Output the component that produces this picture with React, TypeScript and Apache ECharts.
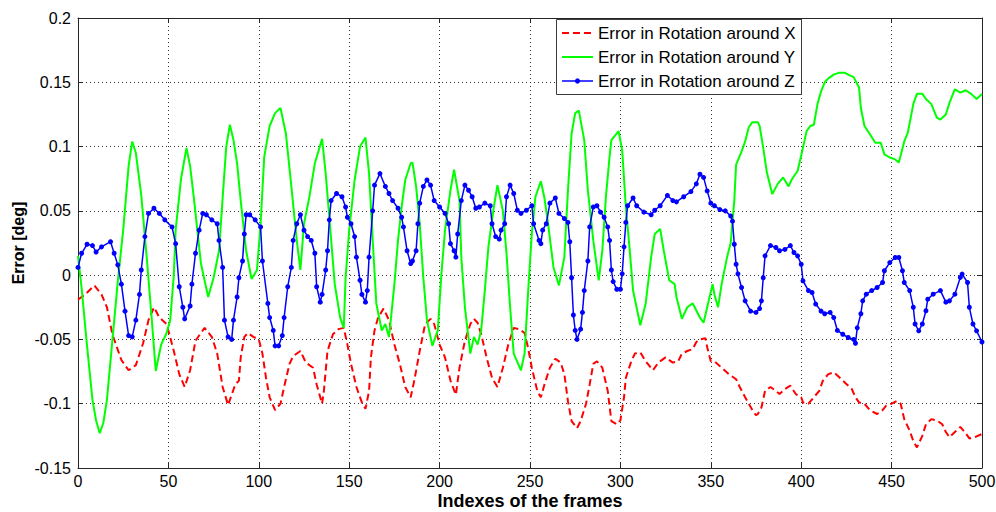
import React, { useEffect, useRef } from "react";
import * as echarts from "echarts";

const seriesNames = [
  "Error in Rotation around X",
  "Error in Rotation around Y",
  "Error in Rotation around Z",
];
const seriesColors = ["#ff0000", "#00ff00", "#0000ff"];

const xTicks = { min: 0, max: 500, interval: 50 };
const yTicks = { min: -0.15, max: 0.2, interval: 0.05 };

// [frame index, error in deg]
const rotX: [number, number][] = [
  [0,-0.019],[4,-0.015],[9,-0.008],[13,-0.015],[16,-0.025],[19,-0.046],[24,-0.066],[28,-0.074],[32,-0.070],[36,-0.053],[39,-0.035],[42,-0.025],[45,-0.033],[49,-0.038],[53,-0.059],[56,-0.077],[59,-0.087],[62,-0.074],[65,-0.051],[70,-0.041],[74,-0.048],[77,-0.061],[80,-0.087],[83,-0.101],[87,-0.085],[89,-0.082],[90,-0.064],[92,-0.048],[94,-0.045],[97,-0.048],[100,-0.050],[102,-0.061],[104,-0.080],[106,-0.095],[109,-0.105],[112,-0.100],[114,-0.087],[117,-0.069],[119,-0.063],[123,-0.059],[126,-0.068],[130,-0.072],[132,-0.085],[135,-0.100],[136,-0.090],[138,-0.059],[141,-0.046],[144,-0.042],[147,-0.041],[149,-0.054],[151,-0.069],[154,-0.087],[157,-0.099],[159,-0.104],[161,-0.090],[162,-0.064],[164,-0.043],[166,-0.033],[169,-0.026],[172,-0.035],[175,-0.054],[178,-0.069],[181,-0.087],[184,-0.095],[186,-0.082],[189,-0.059],[192,-0.038],[195,-0.034],[197,-0.038],[200,-0.054],[203,-0.064],[206,-0.082],[209,-0.093],[211,-0.072],[214,-0.051],[217,-0.038],[219,-0.034],[221,-0.037],[223,-0.046],[226,-0.064],[229,-0.080],[232,-0.087],[235,-0.072],[238,-0.054],[241,-0.041],[244,-0.042],[247,-0.045],[249,-0.057],[251,-0.072],[254,-0.090],[256,-0.095],[258,-0.085],[261,-0.072],[264,-0.065],[267,-0.068],[269,-0.077],[271,-0.098],[273,-0.1135],[276,-0.119],[278,-0.1135],[281,-0.100],[283,-0.085],[285,-0.069],[287,-0.067],[290,-0.072],[293,-0.090],[295,-0.1135],[298,-0.116],[300,-0.113],[302,-0.095],[303,-0.080],[306,-0.067],[308,-0.061],[311,-0.060],[314,-0.067],[318,-0.074],[321,-0.068],[325,-0.064],[329,-0.068],[332,-0.067],[334,-0.061],[337,-0.059],[340,-0.0575],[342,-0.052],[344,-0.050],[347,-0.049],[348,-0.056],[350,-0.067],[352,-0.067],[356,-0.072],[360,-0.077],[364,-0.081],[366,-0.087],[369,-0.095],[371,-0.100],[373,-0.105],[375,-0.109],[376,-0.108],[378,-0.103],[380,-0.090],[383,-0.087],[386,-0.090],[388,-0.0925],[391,-0.0886],[394,-0.086],[397,-0.0925],[400,-0.095],[401,-0.099],[404,-0.100],[407,-0.095],[410,-0.090],[412,-0.082],[415,-0.077],[418,-0.0756],[420,-0.078],[423,-0.082],[425,-0.0847],[428,-0.0886],[430,-0.095],[432,-0.099],[435,-0.100],[438,-0.105],[442,-0.108],[445,-0.105],[447,-0.1015],[450,-0.100],[453,-0.0977],[455,-0.100],[457,-0.112],[460,-0.121],[462,-0.129],[464,-0.134],[467,-0.125],[469,-0.116],[472,-0.112],[475,-0.113],[478,-0.116],[480,-0.122],[482,-0.126],[485,-0.122],[488,-0.118],[491,-0.123],[493,-0.127],[496,-0.126],[500,-0.1235],
];

const rotY: [number, number][] = [
  [0,0.015],[2,-0.01],[5,-0.055],[8,-0.097],[10,-0.113],[12,-0.123],[14,-0.115],[16,-0.097],[19,-0.051],[22,-0.005],[25,0.035],[28,0.085],[30,0.104],[32,0.095],[35,0.062],[38,0.014],[41,-0.038],[43,-0.0745],[46,-0.054],[49,-0.045],[51,-0.035],[53,0.0],[54,0.035],[57,0.075],[60,0.099],[62,0.085],[64,0.061],[68,0.009],[72,-0.017],[75,-0.002],[78,0.019],[80,0.06],[82,0.1],[84,0.117],[86,0.105],[88,0.087],[90,0.058],[93,0.019],[96,-0.003],[99,0.004],[101,0.04],[103,0.092],[106,0.116],[109,0.126],[112,0.130],[115,0.110],[118,0.069],[121,0.027],[123,0.004],[125,0.040],[128,0.061],[131,0.087],[135,0.106],[137,0.079],[139,0.045],[142,-0.007],[145,-0.033],[147,-0.041],[148,-0.002],[150,0.035],[153,0.074],[156,0.1],[159,0.107],[161,0.079],[163,0.027],[165,-0.022],[168,-0.043],[170,-0.038],[172,-0.048],[173,-0.035],[175,-0.007],[177,0.027],[179,0.053],[181,0.074],[184,0.087],[185,0.0875],[187,0.069],[189,0.040],[191,-0.002],[193,-0.035],[196,-0.055],[199,-0.043],[201,0.001],[203,0.035],[206,0.066],[208,0.082],[211,0.058],[212,0.014],[214,-0.025],[217,-0.061],[219,-0.048],[221,-0.054],[223,-0.043],[225,-0.012],[227,0.022],[230,0.053],[232,0.070],[235,0.050],[237,0.017],[239,-0.025],[241,-0.061],[245,-0.074],[247,-0.061],[249,-0.012],[251,0.032],[253,0.061],[256,0.073],[258,0.060],[260,0.040],[263,0.006],[266,-0.008],[269,0.014],[271,0.066],[273,0.110],[275,0.126],[277,0.128],[280,0.105],[282,0.066],[285,0.027],[288,-0.004],[290,0.019],[292,0.061],[294,0.092],[295,0.105],[299,0.112],[301,0.097],[303,0.053],[305,0.022],[307,-0.012],[311,-0.039],[314,-0.022],[317,0.014],[319,0.032],[322,0.036],[324,0.019],[327,-0.004],[330,-0.007],[331,-0.017],[334,-0.034],[337,-0.025],[340,-0.022],[344,-0.033],[346,-0.037],[348,-0.025],[351,-0.007],[352,-0.015],[354,-0.025],[356,-0.007],[359,0.014],[361,0.025],[363,0.058],[364,0.086],[367,0.096],[369,0.104],[371,0.115],[373,0.119],[376,0.119],[377,0.116],[379,0.099],[381,0.080],[384,0.063],[387,0.071],[390,0.076],[393,0.069],[395,0.075],[398,0.081],[400,0.093],[403,0.112],[405,0.116],[407,0.117],[409,0.133],[411,0.143],[413,0.150],[415,0.153],[418,0.156],[421,0.1575],[424,0.1575],[426,0.156],[429,0.154],[432,0.146],[433,0.130],[435,0.116],[438,0.1096],[441,0.103],[444,0.103],[446,0.094],[449,0.0915],[452,0.090],[454,0.0876],[457,0.104],[459,0.111],[462,0.133],[464,0.141],[467,0.141],[469,0.137],[472,0.133],[475,0.1225],[477,0.121],[480,0.125],[482,0.134],[485,0.1446],[488,0.142],[491,0.1438],[494,0.141],[497,0.137],[500,0.141],
];

const rotZ: [number, number][] = [
  [0,0.006],[2,0.017],[5,0.024],[8,0.023],[10,0.018],[13,0.022],[18,0.026],[20,0.017],[22,0.008],[24,-0.007],[26,-0.028],[28,-0.047],[30,-0.048],[32,-0.035],[34,-0.015],[35,0.004],[37,0.030],[39,0.048],[42,0.052],[45,0.048],[48,0.043],[52,0.0375],[54,0.0245],[56,-0.009],[58,-0.025],[59,-0.034],[62,-0.024],[63,-0.007],[65,0.017],[67,0.035],[69,0.048],[71,0.047],[74,0.043],[77,0.040],[78,0.027],[80,0.006],[81,-0.035],[83,-0.048],[85,-0.050],[86,-0.035],[88,-0.017],[89,-0.002],[91,0.011],[92,0.032],[93,0.047],[95,0.047],[98,0.043],[101,0.0375],[102,0.011],[105,-0.022],[106,-0.033],[108,-0.043],[109,-0.055],[111,-0.055],[113,-0.047],[114,-0.033],[116,-0.009],[118,0.006],[119,0.027],[121,0.040],[123,0.047],[125,0.035],[127,0.030],[129,0.027],[131,0.017],[132,-0.009],[134,-0.021],[135,-0.015],[137,0.004],[138,0.019],[139,0.043],[140,0.058],[143,0.0635],[146,0.061],[148,0.053],[149,0.045],[151,0.040],[153,0.030],[154,0.014],[156,-0.004],[157,-0.015],[159,-0.021],[160,-0.012],[161,0.014],[163,0.050],[164,0.070],[167,0.079],[170,0.069],[172,0.0635],[174,0.058],[177,0.052],[179,0.045],[180,0.0375],[182,0.019],[184,0.009],[185,0.011],[187,0.019],[188,0.04],[189,0.056],[191,0.069],[193,0.074],[195,0.07],[197,0.058],[200,0.053],[203,0.048],[205,0.040],[206,0.0245],[208,0.019],[209,0.014],[210,0.032],[212,0.058],[214,0.070],[216,0.066],[218,0.061],[220,0.052],[222,0.053],[225,0.056],[228,0.054],[229,0.040],[231,0.030],[233,0.028],[234,0.035],[236,0.040],[237,0.061],[239,0.070],[241,0.0635],[243,0.0505],[245,0.048],[248,0.0505],[251,0.054],[252,0.040],[255,0.027],[256,0.0245],[257,0.035],[259,0.040],[261,0.056],[264,0.060],[266,0.048],[269,0.044],[271,0.041],[272,0.026],[273,-0.002],[274,-0.031],[275,-0.043],[276,-0.050],[278,-0.042],[279,-0.029],[280,-0.012],[282,0.011],[283,0.0375],[285,0.053],[287,0.054],[289,0.049],[291,0.045],[293,0.0375],[294,0.027],[295,0.004],[296,-0.005],[298,-0.011],[300,-0.011],[301,0.001],[302,0.022],[303,0.041],[304,0.054],[307,0.060],[309,0.054],[313,0.049],[317,0.047],[319,0.0505],[322,0.054],[326,0.062],[329,0.058],[331,0.057],[335,0.061],[339,0.065],[342,0.071],[344,0.0785],[346,0.076],[348,0.0655],[350,0.056],[352,0.054],[355,0.051],[358,0.050],[361,0.046],[362,0.042],[363,0.024],[364,0.0085],[365,0.001],[367,-0.0096],[369,-0.020],[372,-0.028],[375,-0.029],[377,-0.026],[378,-0.020],[379,-0.002],[380,0.015],[383,0.023],[386,0.0215],[388,0.019],[391,0.020],[394,0.023],[396,0.0176],[398,0.015],[400,0.0085],[401,-0.0044],[404,-0.012],[406,-0.0135],[408,-0.0225],[411,-0.028],[413,-0.030],[416,-0.029],[418,-0.033],[420,-0.043],[423,-0.046],[426,-0.0485],[429,-0.050],[430,-0.053],[431,-0.041],[433,-0.030],[434,-0.020],[436,-0.0148],[439,-0.012],[442,-0.0096],[445,-0.0057],[446,0.0034],[449,0.0098],[452,0.0137],[454,0.0137],[456,0.0034],[457,-0.0057],[460,-0.012],[462,-0.025],[463,-0.038],[465,-0.0433],[467,-0.038],[469,-0.0277],[470,-0.0187],[473,-0.0148],[477,-0.012],[480,-0.021],[482,-0.020],[485,-0.0148],[488,-0.0018],[489,0.0008],[492,-0.0057],[493,-0.025],[495,-0.038],[497,-0.0433],[500,-0.052],
];

const FONT = "'Liberation Sans', Arial, Helvetica, sans-serif";
const AXIS_COLOR = "#262626";
const RED_DASH = [7, 4];

export default function App() {
  const ref = useRef<HTMLDivElement>(null);

  useEffect(() => {
    if (!ref.current) return;
    const chart = echarts.init(ref.current, undefined, { renderer: "svg" });

    const fmtY = (v: number) => String(parseFloat(v.toFixed(2)));

    const baseX = {
      type: "value" as const,
      min: xTicks.min,
      max: xTicks.max,
      interval: xTicks.interval,
      axisLine: { show: true, onZero: false, lineStyle: { color: AXIS_COLOR, width: 1 } },
      axisTick: { show: true, inside: true, length: 5, lineStyle: { color: AXIS_COLOR } },
    };
    const baseY = {
      type: "value" as const,
      min: yTicks.min,
      max: yTicks.max,
      interval: yTicks.interval,
      axisLine: { show: true, onZero: false, lineStyle: { color: AXIS_COLOR, width: 1 } },
      axisTick: { show: true, inside: true, length: 5, lineStyle: { color: AXIS_COLOR } },
    };

    // Legend box drawn with graphic elements (MATLAB style), above everything
    const Z = 200;
    const lgLeft = 556;
    const lgTop = 19;
    const lgW = 245;
    const lgH = 75;
    const rowY = [33, 57, 81];
    const legendEls: any[] = [
      {
        type: "rect",
        z: Z,
        shape: { x: lgLeft + 0.5, y: lgTop + 0.5, width: lgW, height: lgH },
        style: { fill: "#ffffff", stroke: "#3c3c3c", lineWidth: 1 },
      },
    ];
    seriesNames.forEach((name, i) => {
      const y = rowY[i];
      legendEls.push({
        type: "line",
        z: Z + 1,
        shape: { x1: lgLeft + 6, y1: y, x2: lgLeft + 37, y2: y },
        style: {
          stroke: seriesColors[i],
          lineWidth: i === 2 ? 1.5 : 2,
          lineDash: i === 0 ? RED_DASH : null,
        },
      });
      if (i === 2) {
        legendEls.push({
          type: "circle",
          z: Z + 2,
          shape: { cx: lgLeft + 21.5, cy: y, r: 2.6 },
          style: { fill: seriesColors[i] },
        });
      }
      legendEls.push({
        type: "text",
        z: Z + 1,
        x: lgLeft + 42,
        y,
        style: {
          text: name,
          fill: "#000000",
          font: `17px ${FONT}`,
          verticalAlign: "middle",
          align: "left",
        },
      });
    });

    chart.setOption({
      animation: false,
      backgroundColor: "#ffffff",
      textStyle: { fontFamily: FONT },
      grid: {
        left: 78,
        right: 14,
        top: 18,
        bottom: 44,
        containLabel: false,
        outerBoundsMode: "none",
        show: false,
      },
      graphic: { elements: legendEls },
      xAxis: [
        {
          ...baseX,
          position: "bottom",
          name: "Indexes of the frames",
          nameLocation: "middle",
          nameGap: 24,
          nameMoveOverlap: false,
          nameTextStyle: { fontFamily: FONT, fontSize: 18, fontWeight: "bold", color: "#000" },
          axisLabel: { show: true, margin: 5, fontFamily: FONT, fontSize: 16, color: "#000" },
          splitLine: { show: true, lineStyle: { color: "#333333", type: [1, 3], width: 1 } },
        },
        {
          ...baseX,
          position: "top",
          axisLabel: { show: false },
          splitLine: { show: false },
        },
      ],
      yAxis: [
        {
          ...baseY,
          position: "left",
          name: "Error [deg]",
          nameLocation: "middle",
          nameGap: 52,
          nameMoveOverlap: false,
          nameRotate: 90,
          nameTextStyle: { fontFamily: FONT, fontSize: 16, fontWeight: "bold", color: "#000" },
          axisLabel: { show: true, margin: 7, fontFamily: FONT, fontSize: 16, color: "#000", formatter: fmtY },
          splitLine: { show: true, lineStyle: { color: "#333333", type: [1, 3], width: 1 } },
        },
        {
          ...baseY,
          position: "right",
          axisLabel: { show: false },
          splitLine: { show: false },
        },
      ],
      series: [
        {
          name: seriesNames[0],
          type: "line",
          data: rotX,
          symbol: "none",
          lineStyle: { color: seriesColors[0], width: 2, type: RED_DASH },
          itemStyle: { color: seriesColors[0] },
        },
        {
          name: seriesNames[1],
          type: "line",
          data: rotY,
          symbol: "none",
          lineStyle: { color: seriesColors[1], width: 2 },
          itemStyle: { color: seriesColors[1] },
        },
        {
          name: seriesNames[2],
          type: "line",
          data: rotZ,
          symbol: "circle",
          symbolSize: 5,
          showAllSymbol: true,
          lineStyle: { color: seriesColors[2], width: 1.5 },
          itemStyle: { color: seriesColors[2] },
        },
      ],
    });

    return () => chart.dispose();
  }, []);

  return (
    <div
      ref={ref}
      style={{ position: "fixed", left: 0, top: 0, width: 996, height: 512, background: "#fff" }}
    />
  );
}
